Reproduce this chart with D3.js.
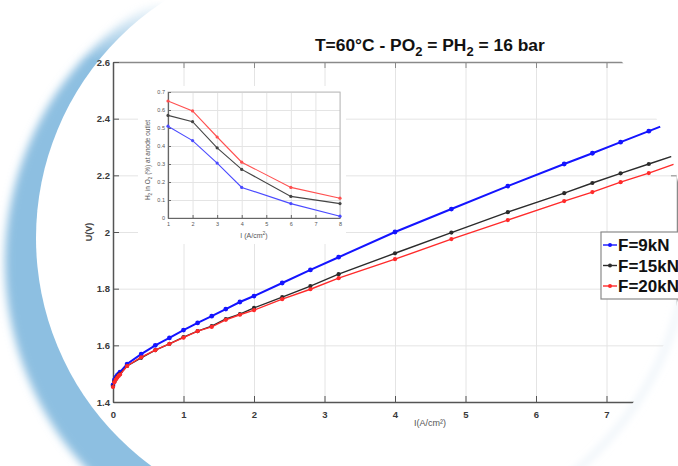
<!DOCTYPE html>
<html>
<head>
<meta charset="utf-8">
<script src="https://cdn.jsdelivr.net/npm/d3@7"></script>
<style>
    body { margin: 0; background: #fff; }
    svg { display: block; font-family: "Liberation Sans", Arial, sans-serif; }
    .grid line { stroke: #e4e4e4; }
    .grid path { display: none; }
</style>
</head>
<body>
<svg id="chart" width="678" height="466"></svg>
<script>
// current density (A/cm2) for the polarisation curves
const current = [0, 0.02, 0.04, 0.06, 0.08, 0.1, 0.2, 0.4, 0.6, 0.8, 1.0, 1.2, 1.4, 1.6, 1.8,
    2.0, 2.4, 2.8, 3.2, 4.0, 4.8, 5.6, 6.4, 6.8, 7.2, 7.6, 8.0];
const u9kN = [1.460, 1.478, 1.487, 1.494, 1.499, 1.505, 1.534, 1.569, 1.600, 1.626, 1.654, 1.679, 1.703, 1.728, 1.753,
    1.774, 1.820, 1.866, 1.911, 2.000, 2.081, 2.162, 2.240, 2.278, 2.317, 2.356, 2.395];
const u15kN = [1.455, 1.472, 1.481, 1.488, 1.494, 1.499, 1.527, 1.556, 1.583, 1.605, 1.629, 1.650, 1.668, 1.693, 1.710,
    1.732, 1.770, 1.809, 1.851, 1.925, 1.998, 2.070, 2.137, 2.173, 2.207, 2.240, 2.273];
const u20kN = [1.453, 1.470, 1.479, 1.486, 1.492, 1.497, 1.527, 1.558, 1.583, 1.605, 1.627, 1.650, 1.665, 1.690, 1.708,
    1.724, 1.763, 1.798, 1.837, 1.904, 1.975, 2.042, 2.109, 2.141, 2.176, 2.208, 2.243];

// inset: H2 in O2 at anode outlet
const insetCurrent = [1, 2, 3, 4, 6, 8];
const h2o2_9kN = [0.51, 0.43, 0.305, 0.17, 0.08, 0.01];
const h2o2_15kN = [0.57, 0.535, 0.39, 0.27, 0.12, 0.08];
const h2o2_20kN = [0.65, 0.595, 0.45, 0.31, 0.17, 0.11];

const seriesNames = ["F=9kN", "F=15kN", "F=20kN"];
const seriesColors = ["#1414ff", "#2b2b2b", "#ff2a2a"];
const insetColors = ["#4a4aff", "#444444", "#ff5050"];

const xTicks = [0, 1, 2, 3, 4, 5, 6, 7];
const yTicks = [1.4, 1.6, 1.8, 2, 2.2, 2.4, 2.6];
const insetYTicks = [0, 0.1, 0.2, 0.3, 0.4, 0.5, 0.6, 0.7];

const svg = d3.select("#chart");
const defs = svg.append("defs");

/** Blue crescent on the left and the soft edge on the right. */
function drawBackdrop() {
    defs.append("filter").attr("id", "soft")
        .attr("x", "-20%").attr("y", "-20%").attr("width", "140%").attr("height", "140%")
        .append("feGaussianBlur").attr("stdDeviation", 4);

    let fade = defs.append("linearGradient").attr("id", "fade")
        .attr("gradientUnits", "userSpaceOnUse")
        .attr("x1", 0).attr("y1", 0).attr("x2", 0).attr("y2", 60);
    fade.append("stop").attr("offset", 0).attr("stop-color", "#fff").attr("stop-opacity", 0);
    fade.append("stop").attr("offset", 1).attr("stop-color", "#fff").attr("stop-opacity", 1);

    let mask = defs.append("mask").attr("id", "fadeMask");
    mask.append("rect").attr("x", 0).attr("y", 0).attr("width", 260).attr("height", 466)
        .attr("fill", "url(#fade)");

    let arc = svg.append("g").attr("mask", "url(#fadeMask)");
    arc.append("circle").attr("cx", 309).attr("cy", 262).attr("r", 304)
        .attr("fill", "#8dbfe1").attr("filter", "url(#soft)");
    arc.append("circle").attr("cx", 319).attr("cy", 238).attr("r", 283)
        .attr("fill", "#fff");

    // faint edge bottom right
    defs.append("clipPath").attr("id", "rightCorner")
        .append("rect").attr("x", 540).attr("y", 300).attr("width", 140).attr("height", 170);
    svg.append("ellipse").attr("cx", 296).attr("cy", 240).attr("rx", 391).attr("ry", 331)
        .attr("fill", "none").attr("stroke", "#dce9f4").attr("stroke-width", 3)
        .attr("filter", "url(#soft)").attr("clip-path", "url(#rightCorner)");
}

drawBackdrop();

defs.append("clipPath").attr("id", "page")
    .append("ellipse").attr("cx", 294).attr("cy", 240).attr("rx", 390).attr("ry", 330);

const x = d3.scaleLinear().domain([0, 8]).range([113, 677]);
const y = d3.scaleLinear().domain([1.4, 2.6]).range([402, 62]);

const plot = svg.append("g").attr("clip-path", "url(#page)");

// grid
plot.append("g").attr("class", "grid")
    .attr("transform", "translate(0,402)")
    .call(d3.axisBottom(x).tickValues(xTicks.slice(1)).tickSize(-340).tickFormat(""));
plot.append("g").attr("class", "grid")
    .attr("transform", "translate(113,0)")
    .call(d3.axisLeft(y).tickValues(yTicks.slice(1, -1)).tickSize(-564).tickFormat(""));

/** Styles one axis group the way the figure does. */
function styleAxis(g, color) {
    g.select(".domain").attr("stroke", color).attr("stroke-width", 1.5);
    g.selectAll(".tick line").attr("stroke", color);
    g.selectAll(".tick text").attr("fill", "#3a3a3a")
        .style("font-size", "9.5px").style("font-weight", "bold");
}

plot.append("g").attr("transform", "translate(0,62)")
    .call(d3.axisTop(x).tickValues(xTicks.slice(1)).tickSizeInner(-6).tickSizeOuter(0).tickFormat(""))
    .call(g => styleAxis(g, "#8a8a8a"));
plot.append("g").attr("transform", "translate(677,0)")
    .call(d3.axisRight(y).tickValues(yTicks).tickSizeInner(-6).tickSizeOuter(0).tickFormat(""))
    .call(g => styleAxis(g, "#8a8a8a"));
plot.append("g").attr("transform", "translate(0,402)")
    .call(d3.axisBottom(x).tickValues(xTicks).tickSizeInner(-6).tickSizeOuter(0).tickPadding(9).tickFormat(d3.format("d")))
    .call(g => styleAxis(g, "#555"));
plot.append("g").attr("transform", "translate(113,0)")
    .call(d3.axisLeft(y).tickValues(yTicks).tickSizeInner(-6).tickSizeOuter(0).tickPadding(3).tickFormat(d => d))
    .call(g => styleAxis(g, "#555"));

svg.append("text").attr("x", 430).attr("y", 426).attr("text-anchor", "middle")
    .attr("fill", "#555").style("font-size", "9px")
    .text("I(A/cm²)");
svg.append("text").attr("transform", "translate(92,232) rotate(-90)").attr("text-anchor", "middle")
    .attr("fill", "#444").style("font-size", "9px").style("font-weight", "bold")
    .text("U(V)");

// polarisation curves
const mainSeries = [u9kN, u15kN, u20kN];
const line = d3.line().x((d, i) => x(current[i])).y(d => y(d));

mainSeries.forEach(function (vals, k) {
    plot.append("path").datum(vals)
        .attr("fill", "none").attr("stroke", seriesColors[k])
        .attr("stroke-width", k === 0 ? 2 : 1.4)
        .attr("d", line);
    plot.selectAll(null).data(vals).enter().append("circle")
        .attr("cx", (d, i) => x(current[i])).attr("cy", d => y(d))
        .attr("r", k === 0 ? 2.4 : 2.1).attr("fill", seriesColors[k]);
});

// inset
const ix = d3.scaleLinear().domain([1, 8]).range([168, 340]);
const iy = d3.scaleLinear().domain([0, 0.7]).range([218, 92]);
const inset = svg.append("g");

inset.append("rect").attr("x", 138).attr("y", 86).attr("width", 208).attr("height", 158).attr("fill", "#fff");
inset.append("g").attr("class", "grid").attr("transform", "translate(0,218)")
    .call(d3.axisBottom(ix).ticks(8).tickSize(-126).tickFormat(""));
inset.append("g").attr("class", "grid").attr("transform", "translate(168,0)")
    .call(d3.axisLeft(iy).tickValues(insetYTicks).tickSize(-172).tickFormat(""));
inset.append("rect").attr("x", 168).attr("y", 92).attr("width", 172).attr("height", 126)
    .attr("fill", "none").attr("stroke", "#bdbdbd");

function styleInsetAxis(g) {
    g.select(".domain").attr("stroke", "#666").attr("stroke-width", 1.2);
    g.selectAll(".tick line").attr("stroke", "#666");
    g.selectAll(".tick text").attr("fill", "#555").style("font-size", "5.5px");
}

inset.append("g").attr("transform", "translate(0,218)")
    .call(d3.axisBottom(ix).ticks(8).tickSizeInner(-3).tickSizeOuter(0).tickPadding(4))
    .call(styleInsetAxis);
inset.append("g").attr("transform", "translate(168,0)")
    .call(d3.axisLeft(iy).tickValues(insetYTicks).tickSizeInner(-3).tickSizeOuter(0).tickPadding(3)
        .tickFormat(d => d === 0 ? "0" : d3.format(".1f")(d)))
    .call(styleInsetAxis);

let insetX = inset.append("text").attr("x", 254).attr("y", 238).attr("text-anchor", "middle")
    .attr("fill", "#555").style("font-size", "7px");
insetX.append("tspan").text("I (A/cm");
insetX.append("tspan").attr("dy", -3).style("font-size", "5px").text("2");
insetX.append("tspan").attr("dy", 3).text(")");

let insetY = inset.append("text").attr("transform", "translate(150,160) rotate(-90)")
    .attr("text-anchor", "middle").attr("fill", "#555").style("font-size", "6.5px");
insetY.append("tspan").text("H");
insetY.append("tspan").attr("dy", 2).style("font-size", "4.5px").text("2");
insetY.append("tspan").attr("dy", -2).text(" in O");
insetY.append("tspan").attr("dy", 2).style("font-size", "4.5px").text("2");
insetY.append("tspan").attr("dy", -2).text(" (%) at anode outlet");

const insetSeries = [h2o2_9kN, h2o2_15kN, h2o2_20kN];
const insetLine = d3.line().x((d, i) => ix(insetCurrent[i])).y(d => iy(d));

insetSeries.forEach(function (vals, k) {
    inset.append("path").datum(vals)
        .attr("fill", "none").attr("stroke", insetColors[k]).attr("stroke-width", 1.1)
        .attr("d", insetLine);
    inset.selectAll(null).data(vals).enter().append("circle")
        .attr("cx", (d, i) => ix(insetCurrent[i])).attr("cy", d => iy(d))
        .attr("r", 1.6).attr("fill", insetColors[k]);
});

// title
let title = svg.append("text").attr("x", 315).attr("y", 51)
    .attr("fill", "#111").style("font-size", "17.4px").style("font-weight", "bold");
title.append("tspan").text("T=60°C - PO");
title.append("tspan").attr("dy", 5).style("font-size", "13px").text("2");
title.append("tspan").attr("dy", -5).text(" = PH");
title.append("tspan").attr("dy", 5).style("font-size", "13px").text("2");
title.append("tspan").attr("dy", -5).text(" = 16 bar");

// legend
const legend = svg.append("g").attr("transform", "translate(601,232)");
legend.append("rect").attr("width", 100).attr("height", 67)
    .attr("fill", "#fff").attr("stroke", "#8a8a8a").attr("stroke-width", 1.2);

let entries = legend.selectAll("g.entry").data(seriesNames).enter()
    .append("g").classed("entry", true)
    .attr("transform", (d, i) => "translate(0," + (13 + i * 20.5) + ")");
entries.append("line").attr("x1", 2).attr("x2", 16)
    .attr("stroke", (d, i) => seriesColors[i]).attr("stroke-width", 1.4);
entries.append("circle").attr("cx", 9).attr("r", 2).attr("fill", (d, i) => seriesColors[i]);
entries.append("text").attr("x", 17).attr("y", 6)
    .attr("fill", "#111").style("font-size", "17px").style("font-weight", "bold")
    .text(d => d);
</script>
</body>
</html>
